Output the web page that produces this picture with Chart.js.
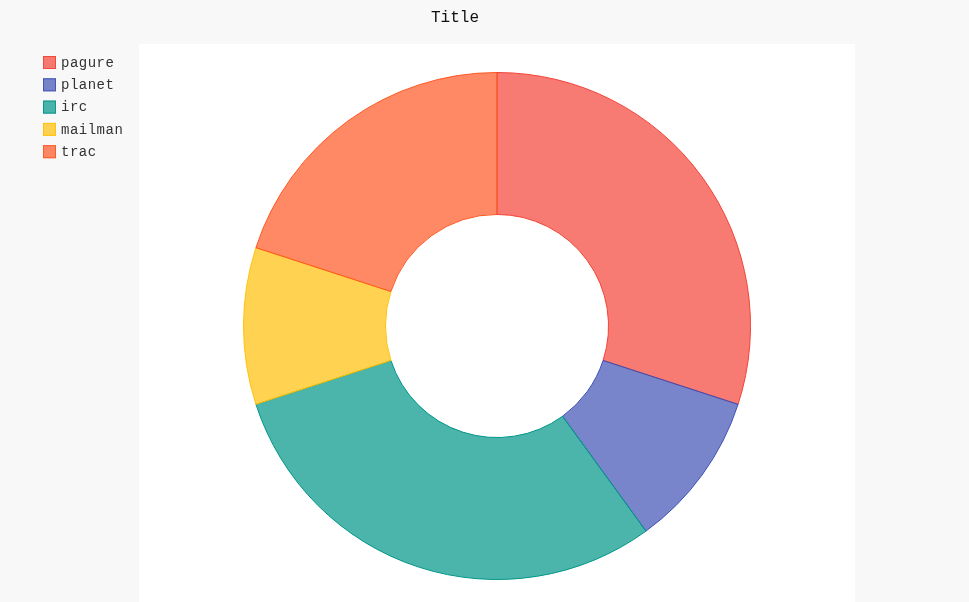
<!DOCTYPE html>
<html>
<head>
<meta charset="utf-8">
<script src="https://cdn.jsdelivr.net/npm/chart.js@4/dist/chart.umd.min.js"></script>
<style>
  html, body { margin: 0; padding: 0; background: #f8f8f8; }
  canvas { display: block; }
</style>
</head>
<body>
<canvas id="pie" width="969" height="602"></canvas>
<script>
// Data
const labels = ["pagure", "planet", "irc", "mailman", "trac"];
const values = [3, 1, 3, 1, 2];
const colors = ["#F44336", "#3F51B5", "#009688", "#FFC107", "#FF5722"];
const titleText = "Title";

const fade = (hex, a) => {
    const n = parseInt(hex.slice(1), 16);
    return `rgba(${n >> 16},${(n >> 8) & 255},${n & 255},${a})`;
};

// Background, plot box, title and legend (pygal-like look)
const decor = {
    id: "decor",
    beforeDraw(chart) {
        const c = chart.ctx;
        c.save();
        c.fillStyle = "#f8f8f8";
        c.fillRect(0, 0, chart.width, chart.height);
        c.fillStyle = "#ffffff";
        c.fillRect(139, 44, 716, 558);
        c.restore();
    },
    afterDraw(chart) {
        const c = chart.ctx;
        c.save();
        c.fillStyle = "#111";
        c.font = "16px 'Liberation Mono', monospace";
        c.textAlign = "center";
        c.textBaseline = "middle";
        c.fillText(titleText, 455, 18);
        c.font = "14px 'Liberation Mono', monospace";
        c.letterSpacing = "0.5px";
        c.textAlign = "left";
        chart.data.labels.forEach((l, i) => {
            const y = 62 + i * 22.3;
            c.fillStyle = fade(colors[i], 0.7);
            c.fillRect(43, y - 6, 13, 13);
            c.strokeStyle = fade(colors[i], 0.9);
            c.lineWidth = 1;
            c.strokeRect(43.5, y - 5.5, 12, 12);
            c.fillStyle = "#333";
            c.fillText(l, 61, y + 1);
        });
        c.restore();
    }
};

new Chart(document.getElementById("pie"), {
    type: "doughnut",
    data: {
        labels: labels,
        datasets: [{
            data: values,
            backgroundColor: colors.map(h => fade(h, 0.7)),
            borderColor: colors,
            borderWidth: 1,
            hoverOffset: 0
        }]
    },
    options: {
        responsive: false,
        animation: false,
        cutout: "44%",
        layout: { padding: { top: 72, bottom: 22, left: 243, right: 218 } },
        plugins: {
            legend: { display: false },
            title: { display: false },
            tooltip: { enabled: false }
        }
    },
    plugins: [decor]
});
</script>
</body>
</html>
